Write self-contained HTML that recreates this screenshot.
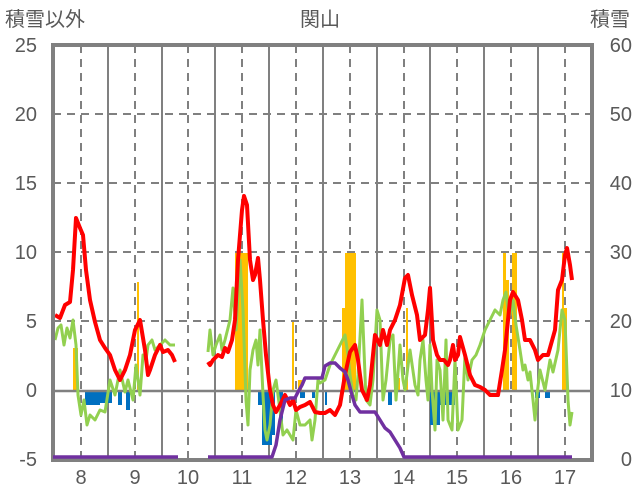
<!DOCTYPE html>
<html><head><meta charset="utf-8"><style>
html,body{margin:0;padding:0;background:#fff;width:636px;height:501px;overflow:hidden}
svg text{font-family:"Liberation Sans","Noto Sans CJK JP",sans-serif;fill:#595959}
</style></head><body>
<svg width="636" height="501" viewBox="0 0 636 501">
<g font-size="20">
<text x="5" y="26">積雪以外</text>
<text x="320" y="26" text-anchor="middle">関山</text>
<text x="630" y="26" text-anchor="end">積雪</text>
</g>
<g font-size="20" text-anchor="end">
<text x="37" y="52">25</text><text x="37" y="121">20</text><text x="37" y="190">15</text>
<text x="37" y="259">10</text><text x="37" y="328">5</text><text x="37" y="397">0</text><text x="37" y="466">-5</text>
</g>
<g font-size="20" text-anchor="end">
<text x="632" y="52">60</text><text x="632" y="121">50</text><text x="632" y="190">40</text>
<text x="632" y="259">30</text><text x="632" y="328">20</text><text x="632" y="397">10</text><text x="632" y="466">0</text>
</g>
<g font-size="20" text-anchor="middle">
<text x="81" y="484">8</text><text x="135" y="484">9</text><text x="188" y="484">10</text><text x="242" y="484">11</text>
<text x="296" y="484">12</text><text x="350" y="484">13</text><text x="404" y="484">14</text><text x="457" y="484">15</text>
<text x="511" y="484">16</text><text x="565" y="484">17</text>
</g>
<g stroke="#808080" stroke-width="2" stroke-dasharray="8,6">
<line x1="53" y1="114" x2="592" y2="114"/><line x1="53" y1="183" x2="592" y2="183"/>
<line x1="53" y1="252" x2="592" y2="252"/><line x1="53" y1="321" x2="592" y2="321"/>
<line x1="81" y1="45" x2="81" y2="460"/><line x1="135" y1="45" x2="135" y2="460"/>
<line x1="188" y1="45" x2="188" y2="460"/><line x1="242" y1="45" x2="242" y2="460"/>
<line x1="296" y1="45" x2="296" y2="460"/><line x1="350" y1="45" x2="350" y2="460"/>
<line x1="404" y1="45" x2="404" y2="460"/><line x1="457" y1="45" x2="457" y2="460"/>
<line x1="511" y1="45" x2="511" y2="460"/><line x1="565" y1="45" x2="565" y2="460"/>
</g>
<g stroke="#808080" stroke-width="2">
<line x1="108" y1="45" x2="108" y2="460"/><line x1="162" y1="45" x2="162" y2="460"/>
<line x1="215" y1="45" x2="215" y2="460"/><line x1="269" y1="45" x2="269" y2="460"/>
<line x1="323" y1="45" x2="323" y2="460"/><line x1="377" y1="45" x2="377" y2="460"/>
<line x1="430" y1="45" x2="430" y2="460"/><line x1="484" y1="45" x2="484" y2="460"/>
<line x1="538" y1="45" x2="538" y2="460"/>
</g>
<g fill="#FFC000">
<rect x="73" y="348" width="5" height="43"/><rect x="137" y="282" width="2" height="109"/>
<rect x="235" y="253" width="13" height="138"/><rect x="292" y="322" width="2" height="69"/>
<rect x="298" y="380" width="4" height="11"/><rect x="342" y="308" width="4" height="83"/>
<rect x="345" y="253" width="11" height="138"/><rect x="398" y="378" width="2" height="13"/>
<rect x="406" y="308" width="2" height="83"/><rect x="503" y="253" width="3" height="138"/>
<rect x="506" y="280" width="3" height="111"/><rect x="512" y="253" width="5" height="138"/>
<rect x="562" y="253" width="2" height="138"/><rect x="564" y="308" width="3" height="83"/>
</g>
<g fill="#0070C0">
<rect x="85" y="391" width="15" height="14"/><rect x="100" y="391" width="12" height="12"/>
<rect x="118" y="391" width="4" height="14"/><rect x="126" y="391" width="4" height="19"/>
<rect x="258" y="391" width="4" height="14"/><rect x="262" y="391" width="10" height="54"/>
<rect x="272" y="391" width="3" height="44"/><rect x="279" y="391" width="4" height="34"/>
<rect x="300" y="391" width="5" height="7"/><rect x="312" y="391" width="3" height="7"/>
<rect x="325" y="391" width="2" height="14"/><rect x="388" y="391" width="4" height="14"/>
<rect x="430" y="391" width="10" height="34"/><rect x="440" y="391" width="15" height="14"/>
<rect x="535" y="391" width="5" height="7"/><rect x="545" y="391" width="5" height="7"/>
</g>
<line x1="53" y1="391" x2="592" y2="391" stroke="#808080" stroke-width="2.5"/>
<g fill="none" stroke="#92D050" stroke-width="3" stroke-linejoin="round">
<polyline points="55,340 58,328 61,325 64,345 67,328 70,338 73,320 76,345 78,395 81,415 84,400 87,425 90,415 95,420 100,410 105,412 110,380 115,395 120,370 125,392 128,380 133,400 136,365 140,395 143,355 146,360 148,345 152,340 155,350 160,345 165,340 170,345 175,345"/>
<polyline points="208,352 210,330 213,355 216,345 220,335 222,350 225,340 230,320 233,288 236,330 240,260 243,310 246,400 248,425 250,370 253,350 256,340 258,365 260,330 263,395 265,430 267,440 270,425 273,390 276,380 280,410 283,435 287,430 290,435 293,440 296,410 300,425 305,425 310,420 312,440 315,420 318,380 320,383 325,380 330,365 335,355 340,345 345,335 348,355 350,375 353,395 356,400 358,375 362,300 366,400 370,405 373,380 377,310 380,320 383,400 386,380 390,340 393,335 396,400 400,345 403,380 405,390 410,350 415,385 418,395 420,360 423,340 426,380 428,400 430,345 432,390 435,430 437,360 440,370 443,420 446,340 448,420 452,430 455,360 458,430 462,420 465,355 468,380 472,360 476,355 480,345 485,330 490,320 495,310 500,315 503,300 506,292 508,310 510,315 513,300 516,325 520,350 523,370 525,365 528,380 530,372 533,400 535,420 537,395 540,370 545,390 550,360 553,372 558,350 562,310 565,320 568,400 570,425 572,412"/>
</g>
<g fill="none" stroke="#FF0000" stroke-width="4" stroke-linejoin="round">
<polyline points="55,315 60,318 65,305 70,302 73,270 76,218 80,228 83,235 86,270 90,300 95,322 100,340 105,348 110,355 115,370 120,380 125,370 130,355 135,330 140,320 145,350 148,375 150,370 155,355 160,345 163,352 168,350 172,355 175,362"/>
<polyline points="208,362 210,365 213,360 218,355 222,357 225,348 228,352 232,340 235,320 238,260 242,210 244,196 247,205 250,260 253,280 255,275 258,258 260,280 263,320 266,355 270,390 273,405 276,412 280,405 285,395 290,405 293,400 296,410 300,407 305,405 310,402 315,412 320,413 325,413 330,410 335,415 340,405 345,375 350,352 355,345 358,360 362,390 367,400 370,385 375,335 380,345 383,330 387,345 390,330 395,320 400,305 405,278 408,275 412,295 417,315 420,340 425,335 428,310 430,288 433,340 437,355 440,360 444,360 448,365 450,360 453,345 455,360 458,355 460,337 465,355 470,375 475,385 480,387 485,390 490,395 498,395 502,370 505,350 510,300 513,292 518,300 522,320 525,340 530,340 535,350 538,360 543,355 548,355 555,330 558,290 562,280 565,255 567,248 570,265 572,280"/>
</g>
<rect x="53" y="45" width="539" height="415" fill="none" stroke="#808080" stroke-width="4"/>
<g fill="none" stroke="#7030A0" stroke-width="3.5" stroke-linejoin="round">
<polyline points="53,457 178,457"/>
<polyline points="208,457 272,457 276,445 280,420 285,400 290,398 295,398 298,392 302,385 305,378 322,378 325,366 330,363 335,363 340,368 345,372 348,380 352,395 355,405 360,412 375,412 380,420 385,428 390,432 395,440 400,448 404,457 572,457"/>
</g>
</svg>
</body></html>
